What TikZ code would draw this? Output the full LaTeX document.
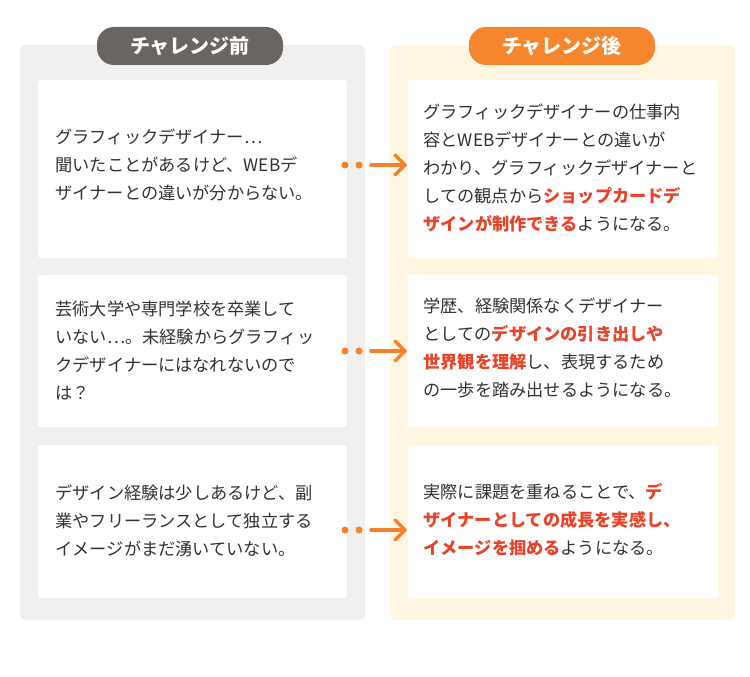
\documentclass[tikz,border=0pt]{standalone}
\usepackage{fontspec}
\setmainfont{Noto Sans CJK JP}
\begin{document}
\begin{tikzpicture}[x=1pt,y=-1pt,
  panelL/.style={fill=black!6,rounded corners=6},
  panelR/.style={fill={rgb,255:red,255;green,246;blue,226},rounded corners=6},
  box/.style={fill=white,rounded corners=3},
  pill/.style={rounded corners=17,minimum width=186pt,minimum height=38pt,text=white,font=\fontsize{20}{22}\selectfont\bfseries},
  txt/.style={anchor=west,align=left,font=\fontsize{17.2}{28}\selectfont,text={rgb,255:red,50;green,50;blue,50}},
  arr/.style={draw={rgb,255:red,245;green,130;blue,40},line width=3.5pt,line cap=round,line join=round},
  dot/.style={circle,fill={rgb,255:red,245;green,130;blue,40},inner sep=0,minimum size=7pt}]
\definecolor{hl}{RGB}{232,66,40}
\newcommand{\hlt}[1]{\textcolor{hl}{\bfseries #1}}
\useasboundingbox (0,0) rectangle (750,677);
\fill[panelL] (20,45) rectangle (365,620);
\fill[panelR] (390,45) rectangle (735,620);
\node[pill,fill={rgb,255:red,106;green,101;blue,97}] (hl) at (190,46) {チャレンジ前};
\node[pill,fill={rgb,255:red,245;green,134;blue,46}] (hr) at (562,46) {チャレンジ後};
\foreach \i/\a/\b in {1/80/258,2/275/427,3/445/598}{
  \fill[box] (38,\a) rectangle (347,\b);
  \fill[box] (408,\a) rectangle (718,\b);
}
\node[txt] (l1) at (52,165) {グラフィックデザイナー…\\聞いたことがあるけど、WEBデ\\ザイナーとの違いが分からない。};
\node[txt] (l2) at (52,351) {芸術大学や専門学校を卒業して\\いない…。未経験からグラフィッ\\クデザイナーにはなれないので\\は？};
\node[txt] (l3) at (52,521) {デザイン経験は少しあるけど、副\\業やフリーランスとして独立する\\イメージがまだ湧いていない。};
\node[txt] (r1) at (420,168) {グラフィックデザイナーの仕事内\\容とWEBデザイナーとの違いが\\わかり、グラフィックデザイナーと\\しての観点から\hlt{ショップカードデ}\\\hlt{ザインが制作できる}ようになる。};
\node[txt] (r2) at (420,348) {学歴、経験関係なくデザイナー\\としての\hlt{デザインの引き出しや}\\\hlt{世界観を理解}し、表現するため\\の一歩を踏み出せるようになる。};
\node[txt] (r3) at (420,520) {実際に課題を重ねることで、\hlt{デ}\\\hlt{ザイナーとしての成長を実感し、}\\\hlt{イメージを掴める}ようになる。};
\foreach \y/\n in {165/1,351/2,530/3}{
  \node[dot] (da\n) at (345,\y) {};
  \node[dot] (db\n) at (359,\y) {};
  \coordinate (s\n) at (371,\y);
  \coordinate (t\n) at (405,\y);
  \draw[arr] (s\n) -- (t\n);
  \draw[arr] ([shift={(-10,-10)}]t\n) -- (t\n) -- ([shift={(-10,10)}]t\n);
}
\end{tikzpicture}
\end{document}
